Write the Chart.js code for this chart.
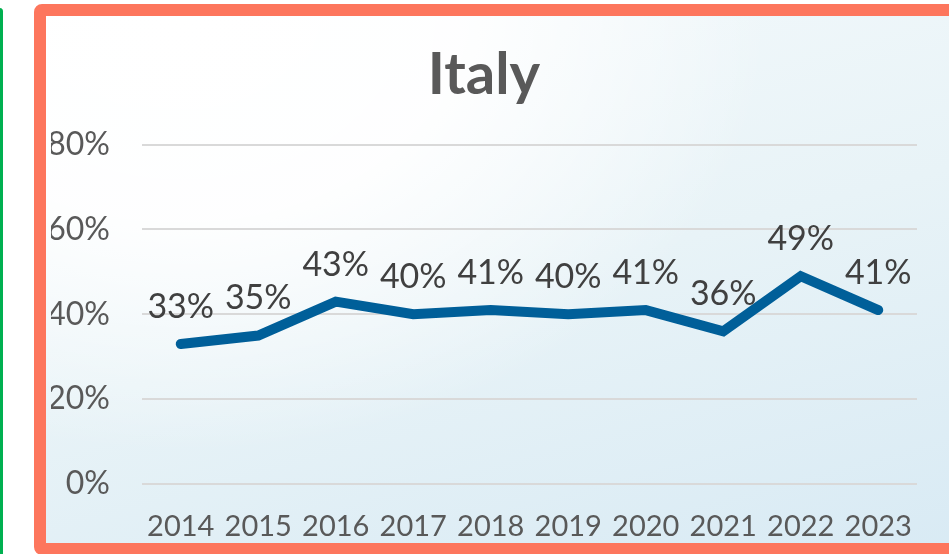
<!DOCTYPE html>
<html lang="en">

<head>
  <meta charset="UTF-8">
  <title>Italy</title>
  <script src="https://cdn.jsdelivr.net/npm/chart.js"></script>
  <style>
    html, body { margin: 0; padding: 0; background: #fff; overflow: hidden; }
    #wrap { position: relative; width: 949px; height: 554px; }
    /* green edge of the neighbouring panel */
    #side { position: absolute; left: -4px; top: 8px; width: 7px; height: 560px; background: #00b050; border-radius: 4px; }
    /* watercolour-ish panel fill */
    #bg {
      position: absolute; left: 46px; top: 16px; width: 920px; height: 540px;
      background:
        radial-gradient(ellipse 75% 95% at 15% 0%, #ffffff 0%, rgba(255,255,255,0.92) 40%, rgba(255,255,255,0) 85%),
        linear-gradient(165deg, #f5fafc 0%, #e8f3f7 50%, #d8eaf4 100%);
    }
    #chart { position: absolute; left: 0; top: 0; }
    /* coral frame, drawn over the canvas so it clips the axis text */
    #frame {
      position: absolute; left: 34px; top: 4px; width: 960px; height: 551px;
      box-sizing: border-box; border: 12px solid #fd765d; border-radius: 8px;
    }
  </style>
</head>

<body>
  <div id="wrap">
    <div id="side"></div>
    <div id="bg"></div>
    <canvas id="chart" width="949" height="554"></canvas>
    <div id="frame"></div>
  </div>

  <script>
    const years = ['2014', '2015', '2016', '2017', '2018', '2019', '2020', '2021', '2022', '2023']
    const share = [33, 35, 43, 40, 41, 40, 41, 36, 49, 41] // %
    const yTicks = [0, 20, 40, 60, 80]

    const fontFam = 'Lato, "Liberation Sans", sans-serif'

    // value labels above each point
    const pointLabels = {
      id: 'pointLabels',
      afterDatasetsDraw(chart) {
        const ctx = chart.ctx
        const meta = chart.getDatasetMeta(0)
        ctx.save()
        ctx.font = '34px ' + fontFam
        ctx.fillStyle = '#404040'
        ctx.textAlign = 'center'
        ctx.textBaseline = 'middle'
        meta.data.forEach((pt, i) => {
          ctx.fillText(share[i] + '%', pt.x, pt.y - 37)
        })
        ctx.restore()
      }
    }

    new Chart(document.getElementById('chart'), {
      type: 'line',
      data: {
        labels: years,
        datasets: [{
          label: 'Italy',
          data: share,
          borderColor: '#005f99',
          borderWidth: 10,
          borderCapStyle: 'round',
          borderJoinStyle: 'miter',
          pointRadius: 0,
          tension: 0,
          fill: false
        }]
      },
      options: {
        responsive: false,
        animation: false,
        layout: { padding: { left: 51, right: 32, top: 0, bottom: 0 } },
        plugins: {
          legend: { display: false },
          tooltip: { enabled: false },
          title: {
            display: true,
            text: 'Italy',
            color: '#595959',
            font: { family: fontFam, size: 58, weight: 'bold', lineHeight: 1.2 },
            padding: { top: 40, bottom: 35 }
          }
        },
        scales: {
          x: {
            offset: true,
            grid: { display: false },
            border: { display: false },
            ticks: {
              color: '#595959',
              padding: 17,
              maxRotation: 0,
              font: { family: fontFam, size: 29 }
            },
            afterFit(scale) { scale.height = 70 }
          },
          y: {
            min: 0,
            max: 80,
            afterBuildTicks(scale) { scale.ticks = yTicks.map(v => ({ value: v })) },
            grid: { color: '#d9d9d9', lineWidth: 2, drawTicks: false },
            border: { display: false },
            ticks: {
              color: '#595959',
              padding: 32,
              font: { family: fontFam, size: 32 },
              callback: v => v + '%'
            },
            afterFit(scale) { scale.width = 91 }
          }
        }
      },
      plugins: [pointLabels]
    })
  </script>
</body>

</html>
